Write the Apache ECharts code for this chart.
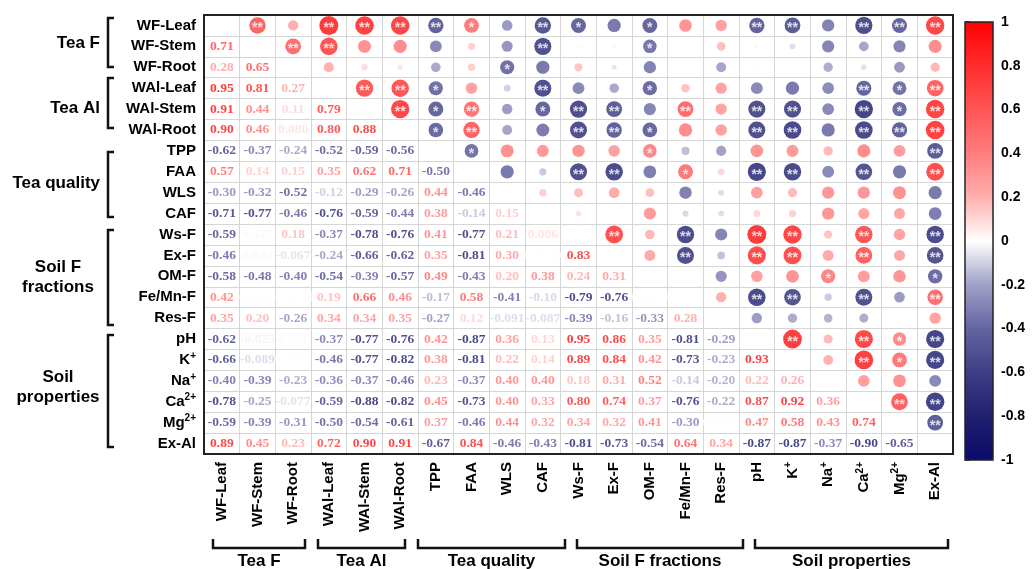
<!DOCTYPE html>
<html><head><meta charset="utf-8">
<script src="https://cdn.jsdelivr.net/npm/echarts@6/dist/echarts.min.js"></script>
<style>html,body{margin:0;padding:0;background:#fff}#c{width:1035px;height:569px}</style>
</head><body><div id="c"></div>
<script>
// ---- data ----
const variables = ['WF-Leaf','WF-Stem','WF-Root','WAl-Leaf','WAl-Stem','WAl-Root','TPP','FAA','WLS','CAF','Ws-F','Ex-F','OM-F','Fe/Mn-F','Res-F','pH','K+','Na+','Ca2+','Mg2+','Ex-Al'];
// lower-triangle correlation rows (row i vs columns 0..i-1)
const rWFStem  = [0.71];
const rWFRoot  = [0.28, 0.65];
const rWAlLeaf = [0.95, 0.81, 0.27];
const rWAlStem = [0.91, 0.44, 0.11, 0.79];
const rWAlRoot = [0.90, 0.46, 0.080, 0.80, 0.88];
const rTPP     = [-0.62, -0.37, -0.24, -0.52, -0.586, -0.56];
const rFAA     = [0.57, 0.14, 0.15, 0.35, 0.62, 0.71, -0.50];
const rWLS     = [-0.30, -0.32, -0.52, -0.12, -0.29, -0.26, 0.44, -0.46];
const rCAF     = [-0.71, -0.77, -0.46, -0.76, -0.586, -0.44, 0.38, -0.14, 0.15];
const rWsF     = [-0.586, 0.025, 0.18, -0.37, -0.78, -0.76, 0.41, -0.77, 0.21, 0.086];
const rExF     = [-0.46, 0.024, -0.067, -0.24, -0.66, -0.62, 0.35, -0.81, 0.30, 0.004, 0.83];
const rOMF     = [-0.58, -0.48, -0.40, -0.54, -0.39, -0.57, 0.49, -0.43, 0.20, 0.38, 0.24, 0.31];
const rFeMnF   = [0.42, 0.004, -0.003, 0.19, 0.66, 0.46, -0.17, 0.58, -0.41, -0.10, -0.79, -0.76, 0.003];
const rResF    = [0.35, 0.20, -0.26, 0.34, 0.34, 0.35, -0.27, 0.12, -0.091, -0.087, -0.39, -0.16, -0.33, 0.28];
const rPH      = [-0.62, -0.025, 0.021, -0.37, -0.77, -0.76, 0.42, -0.87, 0.36, 0.13, 0.95, 0.86, 0.35, -0.81, -0.29];
const rK       = [-0.66, -0.089, 0.004, -0.46, -0.77, -0.82, 0.38, -0.81, 0.22, 0.14, 0.89, 0.84, 0.42, -0.73, -0.23, 0.93];
const rNa      = [-0.40, -0.39, -0.23, -0.36, -0.37, -0.46, 0.23, -0.37, 0.40, 0.40, 0.18, 0.31, 0.52, -0.14, -0.20, 0.22, 0.26];
const rCa      = [-0.78, -0.25, -0.077, -0.594, -0.88, -0.82, 0.45, -0.73, 0.40, 0.33, 0.80, 0.74, 0.37, -0.76, -0.22, 0.87, 0.92, 0.36];
const rMg      = [-0.594, -0.39, -0.31, -0.50, -0.54, -0.61, 0.37, -0.46, 0.44, 0.32, 0.34, 0.32, 0.41, -0.30, 0.004, 0.47, 0.58, 0.43, 0.74];
const rExAl    = [0.89, 0.45, 0.23, 0.72, 0.90, 0.91, -0.67, 0.84, -0.46, -0.43, -0.81, -0.73, -0.54, 0.64, 0.34, -0.87, -0.87, -0.37, -0.90, -0.65];
const colorbarTicks = [-1, -0.8, -0.6, -0.4, -0.2, 0, 0.2, 0.4, 0.6, 0.8, 1];
const colorStops = ['#0a0a69','#20206f','#3e3e86','#6464a2','#a0a0c8','#ffffff','#ffafaf','#ff7d7d','#ff5555','#ff2d2d','#ff0000'];
const sig05 = 0.468, sig01 = 0.59;

const lowerRows = [[], rWFStem, rWFRoot, rWAlLeaf, rWAlStem, rWAlRoot, rTPP, rFAA, rWLS, rCAF, rWsF, rExF, rOMF, rFeMnF, rResF, rPH, rK, rNa, rCa, rMg, rExAl];

// ---- helpers ----
function hexToRgb(h){return [parseInt(h.substr(1,2),16),parseInt(h.substr(3,2),16),parseInt(h.substr(5,2),16)];}
function colorOf(v){
  const t = (v + 1) / 2 * (colorStops.length - 1);
  const i = Math.min(Math.floor(t), colorStops.length - 2);
  const f = t - i;
  const a = hexToRgb(colorStops[i]), b = hexToRgb(colorStops[i+1]);
  const c = a.map((x,k)=>Math.round(x + (b[k]-x)*f));
  return 'rgb(' + c.join(',') + ')';
}
function fmt(v){ return Math.abs(v) < 0.1 ? v.toPrecision(2) : v.toFixed(2); }
function stars(v){ const a = Math.abs(v); return a >= sig01 ? '**' : (a >= sig05 ? '*' : ''); }
function richName(n){
  const m = n.match(/^(K|Na|Ca|Mg)(2?\+)$/);
  if (m) return '{m|' + m[1] + '}{s|' + m[2] + '}';
  return '{m|' + n + '}';
}
const FONT = '"Liberation Sans", Arial, sans-serif';
const SERIF = '"Liberation Serif", "Times New Roman", serif';
const rich = {
  m: {fontSize: 15, fontWeight: 'bold', fontFamily: FONT, color: '#000', lineHeight: 18},
  s: {fontSize: 10, fontWeight: 'bold', fontFamily: FONT, color: '#000', lineHeight: 10, verticalAlign: 'top'}
};

const circleData = [], textData = [];
lowerRows.forEach((row, i) => {
  row.forEach((v, j) => {
    textData.push({value: [j, i, v], label: {color: colorOf(v)}});
    circleData.push([i, j, v]);
  });
});

// ---- layout decorations ----
const G = {left: 204, top: 15, width: 749, height: 439};
const CB = {left: 965, top: 22, width: 28, height: 438};
const leftGroups = [
  {text: 'Tea F', x: 100, y: 43, align: 'right', y0: 18, y1: 67},
  {text: 'Tea Al', x: 100, y: 108, align: 'right', y0: 78, y1: 128},
  {text: 'Tea quality', x: 100, y: 183, align: 'right', y0: 152, y1: 217},
  {text: 'Soil F\nfractions', x: 58, y: 277, align: 'center', y0: 230, y1: 325},
  {text: 'Soil\nproperties', x: 58, y: 387, align: 'center', y0: 335, y1: 447}
];
const bottomGroups = [
  {text: 'Tea F', x0: 213, x1: 305},
  {text: 'Tea Al', x0: 318, x1: 405},
  {text: 'Tea quality', x0: 418, x1: 565},
  {text: 'Soil F fractions', x0: 577, x1: 743},
  {text: 'Soil properties', x0: 755, x1: 948}
];
const graphics = [
  {type: 'rect', z: 100, silent: true, shape: {x: G.left, y: G.top, width: G.width, height: G.height}, style: {fill: 'none', stroke: '#222', lineWidth: 2}},
  {type: 'rect', z: 100, silent: true, shape: {x: CB.left, y: CB.top, width: CB.width, height: CB.height}, style: {fill: 'none', stroke: '#222', lineWidth: 1.5}}
];
leftGroups.forEach(g => {
  graphics.push({type: 'polyline', z: 100, silent: true, shape: {points: [[114, g.y0], [108, g.y0], [108, g.y1], [114, g.y1]]}, style: {fill: 'none', stroke: '#111', lineWidth: 2.5}});
  graphics.push({type: 'text', z: 100, silent: true, style: {text: g.text, x: g.x, y: g.y, textAlign: g.align, textVerticalAlign: 'middle', fontSize: 17, fontWeight: 'bold', fontFamily: FONT, lineHeight: 20, fill: '#000'}});
});
bottomGroups.forEach(g => {
  graphics.push({type: 'polyline', z: 100, silent: true, shape: {points: [[g.x0, 539], [g.x0, 548], [g.x1, 548], [g.x1, 539]]}, style: {fill: 'none', stroke: '#111', lineWidth: 2.5}});
  graphics.push({type: 'text', z: 100, silent: true, style: {text: g.text, x: (g.x0 + g.x1) / 2, y: 561, textAlign: 'center', textVerticalAlign: 'middle', fontSize: 17, fontWeight: 'bold', fontFamily: FONT, fill: '#000'}});
});

const chart = echarts.init(document.getElementById('c'), null, {renderer: 'canvas'});
chart.setOption({
  animation: false,
  backgroundColor: '#fff',
  grid: [
    {left: G.left, top: G.top, width: G.width, height: G.height, show: false},
    {left: CB.left, top: CB.top, width: CB.width, height: CB.height, show: false}
  ],
  xAxis: [
    {type: 'category', gridIndex: 0, data: variables, position: 'bottom',
     axisLine: {show: false}, axisTick: {show: false},
     splitLine: {show: true, interval: 0, lineStyle: {color: '#d6d6d6', width: 1}},
     axisLabel: {interval: 0, rotate: 90, margin: 8, formatter: richName, rich: rich}},
    {type: 'value', gridIndex: 1, min: 0, max: 1, show: false}
  ],
  yAxis: [
    {type: 'category', gridIndex: 0, data: variables, inverse: true,
     axisLine: {show: false}, axisTick: {show: false},
     splitLine: {show: true, interval: 0, lineStyle: {color: '#d6d6d6', width: 1}},
     axisLabel: {interval: 0, margin: 8, formatter: richName, rich: rich}},
    {type: 'value', gridIndex: 1, min: colorbarTicks[0], max: colorbarTicks[colorbarTicks.length-1], interval: 0.2, position: 'right',
     axisLine: {show: false}, splitLine: {show: false},
     axisTick: {show: true, length: 5, lineStyle: {color: '#222', width: 1.5}},
     axisLabel: {margin: 8, fontSize: 14, fontWeight: 'bold', fontFamily: FONT, color: '#000',
                 formatter: v => String(Number(v.toFixed(1)))}}
  ],
  visualMap: {
    type: 'continuous', min: -1, max: 1, seriesIndex: 0, dimension: 2,
    left: CB.left, top: CB.top, itemWidth: CB.width, itemHeight: CB.height, padding: 0,
    calculable: false, hoverLink: false, inRange: {color: colorStops}
  },
  series: [
    {type: 'scatter', xAxisIndex: 0, yAxisIndex: 0, data: circleData, silent: true,
     symbol: 'circle', symbolSize: d => 19.5 * Math.sqrt(Math.abs(d[2])),
     label: {show: true, position: 'inside', formatter: p => stars(p.value[2]), color: '#fff',
             fontSize: 14, fontWeight: 'bold', fontFamily: FONT, offset: [0, 3]},
     emphasis: {disabled: true}},
    {type: 'scatter', xAxisIndex: 0, yAxisIndex: 0, data: textData, silent: true,
     symbol: 'circle', symbolSize: 2, itemStyle: {color: 'rgba(255,255,255,0)'},
     labelLayout: {hideOverlap: false},
     label: {show: true, position: 'inside', formatter: p => fmt(p.value[2]),
             fontSize: 13.5, fontWeight: 'bold', fontFamily: SERIF},
     emphasis: {disabled: true}}
  ],
  graphic: graphics
});
</script></body></html>
